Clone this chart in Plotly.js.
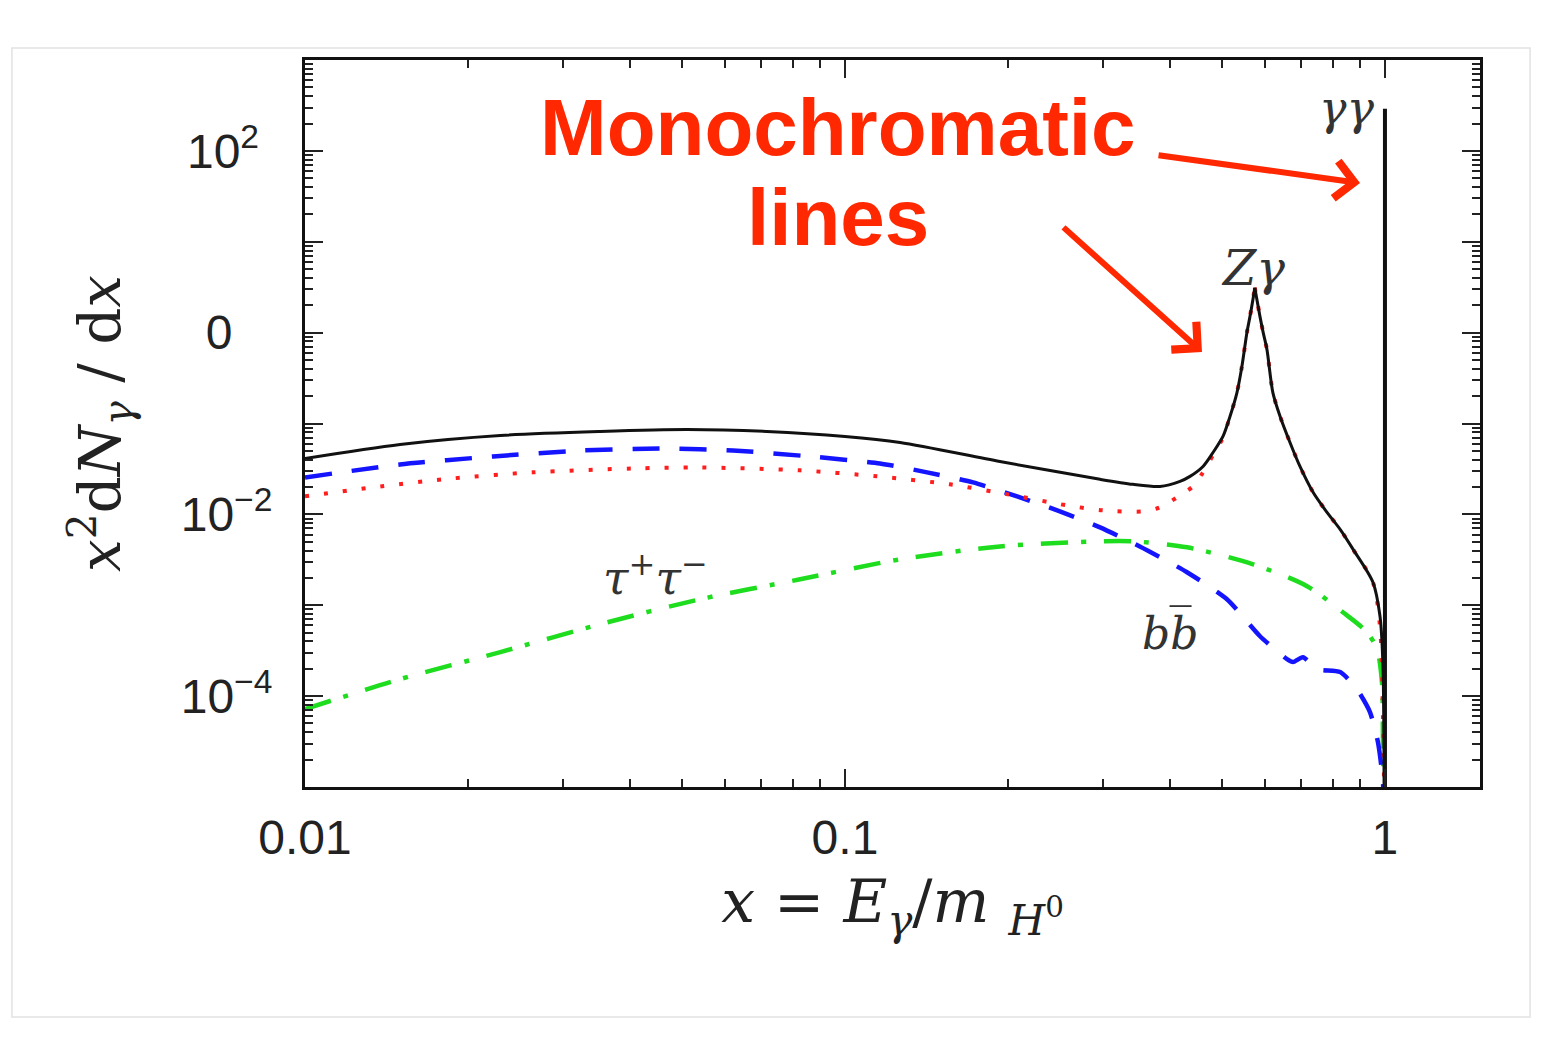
<!DOCTYPE html>
<html>
<head>
<meta charset="utf-8">
<script src="https://cdn.plot.ly/plotly-3.0.1.min.js"></script>
<style>
html,body{margin:0;padding:0;background:#fff;}
#chart{width:1547px;height:1047px;}
</style>
</head>
<body>
<div id="chart"></div>
<script>
// ---- data (x = E_gamma / m_H0) ----
// total spectrum (black), Z-gamma peak at x ~ 0.574
const totalX = [0.0100,0.0150,0.0230,0.0352,0.0510,0.0717,0.100,0.1265,0.1936,0.2967,0.3413,0.3831,0.4173,0.4355,0.4603,0.4804,0.5012,0.5164,0.532,0.5433,0.555,0.5623,0.5695,0.574,0.5869,0.595,0.6046,0.620,0.6395,0.667,0.696,0.736,0.781,0.826,0.873,0.950,0.979,0.9915,0.997];
const totalY = [0.0412,0.0588,0.0738,0.0817,0.0859,0.0817,0.0720,0.0618,0.0382,0.0243,0.0214,0.0203,0.0231,0.0262,0.0337,0.048,0.0720,0.1194,0.219,0.423,1.00,1.50,2.31,3.12,1.50,1.00,0.650,0.219,0.1194,0.0618,0.0337,0.0175,0.01052,0.00684,0.00412,0.00179,0.000757,0.000214,0.000001];

const redX = [0.0100,0.01377,0.0188,0.0264,0.0405,0.0539,0.0826,0.1146,0.1564,0.2047,0.2577,0.3006,0.3564,0.3831,0.4120,0.4409,0.4603,0.4804,0.5012,0.5164,0.532,0.5433,0.555,0.5623,0.5695,0.574,0.5869,0.595,0.6046,0.620,0.6395,0.667,0.696,0.736,0.781,0.826,0.873,0.950,0.979,0.9915,0.996,0.998];
const redY = [0.01578,0.0203,0.0249,0.0290,0.0320,0.0328,0.0305,0.0262,0.0214,0.0162,0.01256,0.01107,0.01079,0.01194,0.01538,0.0203,0.0290,0.045,0.0700,0.1194,0.219,0.423,1.00,1.50,2.31,3.12,1.50,1.00,0.650,0.219,0.1194,0.0618,0.0337,0.0175,0.01052,0.00684,0.00412,0.00179,0.000587,0.0000603,0.0000113,0.000001];

const bbX = [0.0100,0.0150,0.0223,0.0327,0.0468,0.0620,0.0861,0.1161,0.1419,0.1726,0.2083,0.2500,0.2967,0.3516,0.4299,0.5098,0.5870,0.6586,0.6757,0.7049,0.7484,0.826,0.8874,0.9380,0.9705,0.9915,0.997];
const bbY = [0.0255,0.0354,0.0434,0.0505,0.0531,0.0505,0.0434,0.0363,0.0290,0.0225,0.01578,0.01079,0.00719,0.00444,0.00231,0.001164,0.000456,0.000255,0.000237,0.000268,0.000198,0.000184,0.000119,0.0000667,0.0000312,0.0000113,0.000001];

const tauX = [0.0100,0.0150,0.0230,0.0352,0.0539,0.0826,0.1265,0.1936,0.2967,0.3413,0.4299,0.5699,0.7173,0.8358,0.9261,0.9665,0.9872,0.9915,0.997];
const tauY = [0.0000720,0.0001538,0.000305,0.000618,0.001164,0.00193,0.0032,0.00444,0.00505,0.00505,0.00434,0.00282,0.00162,0.000838,0.000505,0.000328,0.0001426,0.0000262,0.000001];

const ggX = [1, 1];
const ggY = [0.000001, 290];

// ---- tick labels ----
const xTickVals = [0.01, 0.1, 1];
const xTickText = ['0.01', '0.1', '1'];
const yTickVals = [1e-5, 1e-4, 1e-3, 1e-2, 1e-1, 1, 10, 100, 1000];
const yTickText = ['', '10<sup>\u22124</sup>', '', '10<sup>\u22122</sup>', '', '0\u00a0\u00a0\u00a0', '', '10<sup>2</sup>\u00a0', ''];

// minor tick positions (2..9 within each decade)
function minorTicks(lo, hi) {
  const out = [];
  for (let e = lo; e < hi; e++) for (let k = 2; k <= 9; k++) out.push(k * Math.pow(10, e));
  return out;
}

// split a curve at its peak so the two flanks can be smoothed separately (keeps the cusp sharp)
function peakIndex(ys) { let m = 0; ys.forEach((v, i) => { if (v > ys[m]) m = i; }); return m; }
const tP = peakIndex(totalY);
const rP = peakIndex(redY);

const serif = 'DejaVu Serif, Liberation Serif, serif';
const sans = 'Liberation Sans, Arial, sans-serif';
const red = 'rgb(255,40,0)';

const blackLine = {color: '#111', width: 3, shape: 'spline', smoothing: 0.8};
const redLine = {color: 'rgb(255,30,30)', width: 4, dash: '4px,15px', shape: 'spline', smoothing: 0.8};

const traces = [
  {x: tauX, y: tauY, mode: 'lines', line: {color: 'rgb(30,220,30)', width: 4.5, dash: '27px,13px,5px,18px', shape: 'spline', smoothing: 0.8}, hoverinfo: 'skip'},
  {x: bbX, y: bbY, mode: 'lines', line: {color: 'rgb(20,20,255)', width: 4.5, dash: '27px,20px', shape: 'spline', smoothing: 0.6}, hoverinfo: 'skip'},
  {x: redX.slice(0, rP + 1), y: redY.slice(0, rP + 1), mode: 'lines', line: redLine, hoverinfo: 'skip'},
  {x: redX.slice(rP), y: redY.slice(rP), mode: 'lines', line: redLine, hoverinfo: 'skip'},
  {x: totalX.slice(0, tP + 1), y: totalY.slice(0, tP + 1), mode: 'lines', line: blackLine, hoverinfo: 'skip'},
  {x: totalX.slice(tP), y: totalY.slice(tP), mode: 'lines', line: blackLine, hoverinfo: 'skip'},
  {x: ggX, y: ggY, mode: 'lines', line: {color: '#111', width: 4}, hoverinfo: 'skip'}
];

const axisCommon = {
  type: 'log', tickmode: 'array', ticks: 'inside', ticklen: 18, tickwidth: 2, tickcolor: '#222',
  showline: true, linewidth: 3, linecolor: '#111', mirror: 'allticks',
  showgrid: false, zeroline: false, automargin: false,
  tickfont: {family: sans, size: 48, color: '#222'}
};

const layout = {
  width: 1547, height: 1047,
  margin: {l: 305, r: 67, t: 60, b: 260},
  paper_bgcolor: '#fff', plot_bgcolor: '#fff',
  showlegend: false,
  xaxis: Object.assign({}, axisCommon, {
    range: [-2, 0.176],
    tickvals: xTickVals, ticktext: xTickText,
    ticklabelstandoff: 6,
    minor: {tickmode: 'array', tickvals: minorTicks(-2, 1), ticks: 'inside', ticklen: 8, tickwidth: 2, tickcolor: '#222', showgrid: false},
    title: {text: '<i>x</i>\u00a0=\u00a0<i>E</i><sub><i>\u03b3</i></sub>/<i>m</i>\u00a0<sub><i>H</i><sup>0</sup></sub>', font: {family: serif, size: 60, color: '#222'}, standoff: 18}
  }),
  yaxis: Object.assign({}, axisCommon, {
    range: [-5, 3],
    tickvals: yTickVals, ticktext: yTickText,
    ticklabelstandoff: 20,
    minor: {tickmode: 'array', tickvals: minorTicks(-5, 3), ticks: 'inside', ticklen: 8, tickwidth: 2, tickcolor: '#222', showgrid: false},
    title: {text: '<i>x</i><sup>2</sup>d<i>N</i><sub><i>\u03b3</i></sub> / d<i>x</i>', font: {family: serif, size: 58, color: '#222'}, standoff: 42}
  }),
  shapes: [
    {type: 'rect', xref: 'paper', yref: 'paper', x0: -0.2494, x1: 1.0426, y0: -0.3164, y1: 1.0165,
     line: {color: '#e2e2e2', width: 1.5}, fillcolor: 'rgba(0,0,0,0)', layer: 'below'}
  ],
  annotations: [
    {xref: 'paper', yref: 'paper', x: 0.4536, y: 0.9065, text: '<b>Monochromatic</b>', showarrow: false,
     font: {family: sans, size: 80, color: red}, xanchor: 'center', yanchor: 'middle'},
    {xref: 'paper', yref: 'paper', x: 0.4536, y: 0.7827, text: '<b>lines</b>', showarrow: false,
     font: {family: sans, size: 80, color: red}, xanchor: 'center', yanchor: 'middle'},
    {xref: 'paper', yref: 'paper', x: 0.8979, y: 0.8308, ax: -203, ay: -28, text: '', showarrow: true,
     arrowhead: 4, arrowsize: 1.2, arrowwidth: 6, arrowcolor: red},
    {xref: 'paper', yref: 'paper', x: 0.7634, y: 0.5983, ax: -140, ay: -126, text: '', showarrow: true,
     arrowhead: 4, arrowsize: 1.2, arrowwidth: 6, arrowcolor: red},
    {xref: 'paper', yref: 'paper', x: 0.2979, y: 0.2916, text: '<i>\u03c4</i><sup>+</sup><i>\u03c4</i><sup>\u2212</sup>', showarrow: false,
     font: {family: serif, size: 46, color: '#333'}, xanchor: 'center', yanchor: 'middle'},
    {xref: 'paper', yref: 'paper', x: 0.7362, y: 0.2132, text: '<i>bb\u0305</i>', showarrow: false,
     font: {family: serif, size: 44, color: '#333'}, xanchor: 'center', yanchor: 'middle'},
    {xref: 'paper', yref: 'paper', x: 0.8068, y: 0.7139, text: '<i>Z\u03b3</i>', showarrow: false,
     font: {family: serif, size: 48, color: '#333'}, xanchor: 'center', yanchor: 'middle'},
    {xref: 'paper', yref: 'paper', x: 0.8868, y: 0.934, text: '<i>\u03b3\u03b3</i>', showarrow: false,
     font: {family: serif, size: 46, color: '#333'}, xanchor: 'center', yanchor: 'middle'}
  ]
};

Plotly.newPlot('chart', traces, layout, {staticPlot: true, displayModeBar: false});
</script>
</body>
</html>
